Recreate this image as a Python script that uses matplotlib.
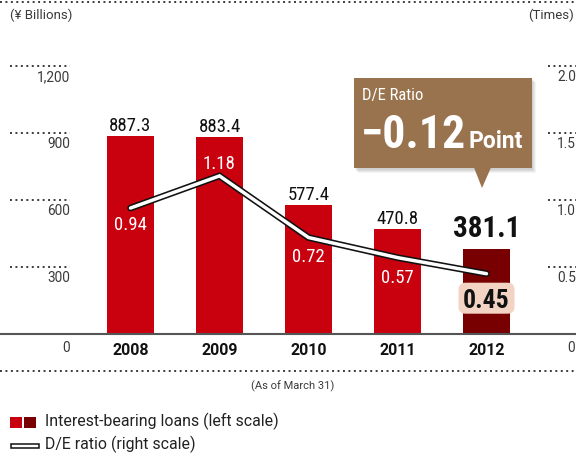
import matplotlib
matplotlib.use("Agg")
import matplotlib.pyplot as plt
from matplotlib.patches import FancyBboxPatch, Polygon, Rectangle
from matplotlib.lines import Line2D
import matplotlib.patheffects as pe
import matplotlib.transforms as mtransforms

# ---- data ----
years = ["2008", "2009", "2010", "2011", "2012"]
loans = [887.3, 883.4, 577.4, 470.8, 381.1]          # ¥ billions, left scale
de_ratio = [0.94, 1.18, 0.72, 0.57, 0.45]            # times, right scale
left_ticks = [300, 600, 900, 1200]
left_tick_labels = ["300", "600", "900", "1,200"]
right_ticks = [0.5, 1.0, 1.5, 2.0]
right_tick_labels = ["0.5", "1.0", "1.5", "2.0"]
de_change = "\u22120.12"

COND = ["Roboto Condensed", "DejaVu Sans"]
WIDE = ["Roboto", "DejaVu Sans"]
plt.rcParams["font.family"] = COND

RED = "#C9000E"
DARK = "#780000"
BROWN = "#99734D"
INK = "#111111"
GREY = "#3A3A3A"

W, H = 576, 457
fig = plt.figure(figsize=(W / 100, H / 100), dpi=100)


def fx(px):
    return px / W


def fy(py):
    return 1 - py / H


def shift(trans, dx=0, dy=0):
    """Offset a transform by screen pixels (dy positive = downward)."""
    return mtransforms.offset_copy(trans, fig=fig, x=dx, y=-dy, units="dots")


base_px, top_px = 334, 66
ax = fig.add_axes([0, fy(base_px), 1, (base_px - top_px) / H])
spacing = 89.0
c0 = 130.5
ax.set_xlim(-c0 / spacing, (W - c0) / spacing)
ax.set_ylim(0, 1200)
ax.axis("off")
ax2 = ax.twinx()
ax2.set_ylim(0, 2.0)
ax2.axis("off")

xs = list(range(len(years)))
bar_w = 47 / spacing
colors = [RED] * (len(years) - 1) + [DARK]
ax.bar(xs, loans, width=bar_w, color=colors, zorder=2)

# baseline
ax.plot([0, 1], [0, 0], transform=ax.get_yaxis_transform(), color="#555555",
        lw=1.5, zorder=3, clip_on=False)

# dotted tick rules and labels
dot = dict(color=GREY, lw=1.4, linestyle=(0, (1.0, 1.8)), clip_on=False)
tl = ax.get_yaxis_transform()
for v, lab in zip(left_ticks, left_tick_labels):
    ax.plot([fx(10), fx(70)], [v, v], transform=tl, **dot)
    ax.text(fx(70), v, lab, transform=shift(tl, dy=15), ha="right", va="baseline",
            fontsize=9.8, color=GREY, family=WIDE)
ax.text(fx(70), 0, "0", transform=shift(tl, dy=18), ha="right", va="baseline",
        fontsize=9.8, color=GREY, family=WIDE)
tr = ax2.get_yaxis_transform()
for v, lab in zip(right_ticks, right_tick_labels):
    ax2.plot([fx(548), fx(576)], [v, v], transform=tr, **dot)
    ax2.text(fx(557), v, lab, transform=shift(tr, dy=15), ha="left", va="baseline",
             fontsize=9.8, color=GREY, family=WIDE)
ax2.text(fx(567), 0, "0", transform=shift(tr, dy=18), ha="left", va="baseline",
         fontsize=9.8, color=GREY, family=WIDE)

# year labels
for x, y in zip(xs, years):
    ax.text(x, 0, y, transform=shift(ax.transData, dy=21), ha="center", va="baseline",
            fontsize=11.5, fontweight="bold", color=INK, family=WIDE)

# loan values above bars
for x, v in zip(xs[:-1], loans[:-1]):
    ax.text(x, v, f"{v:.1f}", transform=shift(ax.transData, dy=-5), ha="center",
            va="baseline", fontsize=13.5, color=INK)
ax.text(xs[-1], loans[-1], f"{loans[-1]:.1f}", transform=shift(ax.transData, dy=-12),
        ha="center", va="baseline", fontsize=21, fontweight="bold", color=INK)

# D/E ratio line: white stroke with a dark outline
ax2.plot(xs, de_ratio, color="white", lw=2.5, zorder=5, solid_joinstyle="miter",
         solid_capstyle="round",
         path_effects=[pe.Stroke(linewidth=4.8, foreground=INK), pe.Normal()])

# ratio labels (baseline offsets in pixels from each point)
label_dy = [22, -7, 24, 25]
for x, r, d in zip(xs[:-1], de_ratio[:-1], label_dy):
    ax2.text(x, r, f"{r:.2f}", transform=shift(ax2.transData, dy=d), ha="center",
             va="baseline", fontsize=13.5, color="white", zorder=6)

# highlighted latest ratio on a pale rounded plate
px_last, py_last = ax2.transData.transform((xs[-1], de_ratio[-1]))
plate = FancyBboxPatch((px_last - 28, py_last - 40), 56, 31,
                       boxstyle="round,pad=0,rounding_size=7",
                       transform=mtransforms.IdentityTransform(), fc="#F2D3C4", ec="none",
                       zorder=6, clip_on=False)
ax2.add_patch(plate)
ax2.text(xs[-1], de_ratio[-1], f"{de_ratio[-1]:.2f}", transform=shift(ax2.transData, dy=34),
         ha="center", va="baseline", fontsize=18.5, fontweight="bold", color=INK, zorder=7)

# callout box with soft shadow
for i, a in enumerate([0.05, 0.05, 0.05, 0.04]):
    fig.patches.append(Rectangle((fx(355 + i), fy(170 + i)), fx(178), (170 - 79) / H,
                                 transform=fig.transFigure, fc="black", ec="none",
                                 alpha=a, zorder=8))
fig.patches.append(Rectangle((fx(354), fy(168)), fx(178), (168 - 78) / H,
                             transform=fig.transFigure, fc=BROWN, ec="none", zorder=9))
fig.patches.append(Polygon([(fx(474), fy(167.5)), (fx(491), fy(167.5)), (fx(482), fy(188))],
                           closed=True, transform=fig.transFigure, fc=BROWN, ec="none",
                           zorder=9))
fig.text(fx(362), fy(100), "D/E Ratio", color="white", fontsize=12, va="baseline",
         ha="left", zorder=10)
t = fig.text(fx(361), fy(148), de_change, color="white", fontsize=33, fontweight="bold",
             va="baseline", ha="left", zorder=10)
fig.canvas.draw()
bb = t.get_window_extent()
fig.text(fx(bb.x1 + 2), fy(148), "Point", color="white", fontsize=16.5, fontweight="bold",
         va="baseline", ha="left", zorder=10, family=WIDE)

# unit headers
fig.text(fx(10), fy(15), "(\u00a5 Billions)", fontsize=9.5, color=GREY, va="center",
         ha="left", family=WIDE)
fig.text(fx(574), fy(15), "(Times)", fontsize=9.5, color=GREY, va="center", ha="right",
         family=WIDE)

# full-width dotted rules
for yy in (2, 371):
    fig.add_artist(Line2D([0, 1], [fy(yy), fy(yy)], transform=fig.transFigure, **dot))

fig.text(fx(293), fy(386), "(As of March 31)", fontsize=8, color=GREY, ha="center",
         va="center", family=WIDE)

# legend
fig.patches.append(Rectangle((fx(10), fy(428)), fx(12), 11 / H, transform=fig.transFigure,
                             fc=RED, ec="none"))
fig.patches.append(Rectangle((fx(24), fy(428)), fx(12), 11 / H, transform=fig.transFigure,
                             fc=DARK, ec="none"))
fig.text(fx(45), fy(421), "Interest-bearing loans (left scale)", fontsize=11.4,
         color="#222222", va="center", family=WIDE)
fig.patches.append(Rectangle((fx(10.5), fy(448)), fx(28), 4 / H, transform=fig.transFigure,
                             fc="white", ec=INK, lw=1.1))
fig.text(fx(45), fy(444), "D/E ratio (right scale)", fontsize=11.4, color="#222222",
         va="center", family=WIDE)

fig.savefig("out.png", dpi=100)
